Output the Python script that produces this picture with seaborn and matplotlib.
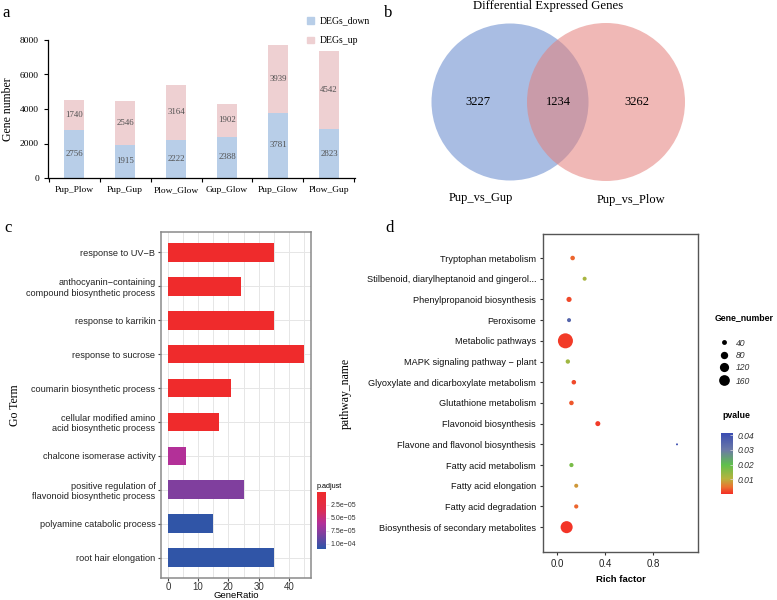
import numpy as np
import pandas as pd
import matplotlib
matplotlib.use("Agg")
import matplotlib.pyplot as plt
import seaborn as sns
from matplotlib.colors import LinearSegmentedColormap, Normalize
from matplotlib.patches import Circle, Patch
import matplotlib.colorbar as mcolorbar

# ---------------- data ----------------
# panel a
comparisons = ["Pup_Plow", "Pup_Gup", "Plow_Glow", "Gup_Glow", "Pup_Glow", "Plow_Gup"]
degs_down = [2756, 1915, 2222, 2388, 3781, 2823]
degs_up = [1740, 2546, 3164, 1902, 3939, 4542]
a_yticks = [0, 2000, 4000, 6000, 8000]

# panel b
venn_sets = ["Pup_vs_Gup", "Pup_vs_Plow"]
venn_counts = [3227, 1234, 3262]   # only left, shared, only right
venn_title = "Differential Expressed Genes"

# panel c
go_terms = ["response to UV\u2212B",
            "anthocyanin\u2212containing\ncompound biosynthetic process",
            "response to karrikin",
            "response to sucrose",
            "coumarin biosynthetic process",
            "cellular modified amino\nacid biosynthetic process",
            "chalcone isomerase activity",
            "positive regulation of\nflavonoid biosynthetic process",
            "polyamine catabolic process",
            "root hair elongation"]
gene_ratio = [35, 24, 35, 45, 21, 17, 6, 25, 15, 35]
p_adjust = [1e-6, 1e-6, 1e-6, 1e-6, 1e-6, 1e-6, 6.0e-5, 8.0e-5, 1.08e-4, 1.08e-4]
padj_ticks = [2.5e-5, 5.0e-5, 7.5e-5, 1.0e-4]
padj_ticklabels = ["2.5e\u221205", "5.0e\u221205", "7.5e\u221205", "1.0e\u221204"]
c_xticks = [0, 10, 20, 30, 40]

# panel d
pathways = ["Tryptophan metabolism",
            "Stilbenoid, diarylheptanoid and gingerol...",
            "Phenylpropanoid biosynthesis",
            "Peroxisome",
            "Metabolic pathways",
            "MAPK signaling pathway \u2212 plant",
            "Glyoxylate and dicarboxylate metabolism",
            "Glutathione metabolism",
            "Flavonoid biosynthesis",
            "Flavone and flavonol biosynthesis",
            "Fatty acid metabolism",
            "Fatty acid elongation",
            "Fatty acid degradation",
            "Biosynthesis of secondary metabolites"]
rich_factor = [0.13, 0.23, 0.10, 0.10, 0.07, 0.09, 0.14, 0.12, 0.34, 1.00, 0.12, 0.16, 0.16, 0.08]
gene_number = [36, 30, 44, 30, 306, 34, 36, 36, 42, 14, 32, 30, 32, 200]
pvalue = [0.004, 0.012, 0.002, 0.035, 0.001, 0.013, 0.002, 0.003, 0.001, 0.040, 0.017, 0.008, 0.004, 0.0005]
gene_legend = [40, 80, 120, 160]
pval_ticks = [0.01, 0.02, 0.03, 0.04]
d_xticks = [0.0, 0.4, 0.8]

# ---------------- style ----------------
W, H = 777, 600
SERIF = "Liberation Serif"
SANS = "Liberation Sans"
DOWN_COLOR = "#b8cee8"
UP_COLOR = "#eed0d2"

fig = plt.figure(figsize=(W / 100, H / 100), dpi=100)


def px_axes(x0, y0, x1, y1):
    return fig.add_axes([x0 / W, 1 - y1 / H, (x1 - x0) / W, (y1 - y0) / H])


# ---------------- panel a ----------------
ax_a = px_axes(48, 40, 355, 178)
df_a = pd.DataFrame({"comp": comparisons, "down": degs_down, "up": degs_up})
df_a["total"] = df_a["down"] + df_a["up"]
sns.barplot(data=df_a, x="comp", y="total", color=UP_COLOR, width=0.4, saturation=1, ax=ax_a)
sns.barplot(data=df_a, x="comp", y="down", color=DOWN_COLOR, width=0.4, saturation=1, ax=ax_a)
for i, (d, u) in enumerate(zip(degs_down, degs_up)):
    ax_a.text(i, d / 2, str(d), ha="center", va="center", fontsize=6.3, family=SERIF, color="#505050")
    ax_a.text(i, d + u / 2, str(u), ha="center", va="center", fontsize=6.3, family=SERIF, color="#505050")
ax_a.set_xlim(-0.51, len(comparisons) - 0.49)
ax_a.set_ylim(0, 8000)
ax_a.set_yticks(a_yticks)
ax_a.set_yticklabels([str(t) for t in a_yticks], family=SERIF, fontsize=6.8)
ax_a.set_xticks(np.arange(-0.5, len(comparisons), 1.0))
ax_a.set_xticklabels([])
ax_a.set_xticks(range(len(comparisons)), minor=True)
ax_a.set_xticklabels(comparisons, minor=True, family=SERIF, fontsize=6.8)
ax_a.tick_params(axis="x", which="minor", length=0, pad=6)
ax_a.tick_params(axis="both", which="major", length=3, width=0.8, direction="out")
ax_a.set_xlabel("")
ax_a.set_ylabel("Gene number", family=SERIF, fontsize=8.5, labelpad=4)
for s in ["top", "right"]:
    ax_a.spines[s].set_visible(False)
for s in ["left", "bottom"]:
    ax_a.spines[s].set_linewidth(0.9)
ax_a.legend(handles=[Patch(color=DOWN_COLOR), Patch(color=UP_COLOR)],
            labels=["DEGs_down", "DEGs_up"], loc="upper left",
            bbox_to_anchor=(298 / W, 1 - 8 / H), bbox_transform=fig.transFigure,
            frameon=False, handlelength=0.7, handleheight=0.7, handletextpad=0.6,
            labelspacing=1.1, prop={"family": SERIF, "size": 7})

# ---------------- panel c ----------------
cmap_c = LinearSegmentedColormap.from_list(
    "padj", [(0.0, "#ef2b2b"), (0.3, "#e02c4c"), (0.55, "#b2309a"), (0.75, "#7a419f"), (1.0, "#2b56a8")])
norm_c = Normalize(0, 1.1e-4)
ax_c = px_axes(161, 232, 311, 578)
df_c = pd.DataFrame({"term": go_terms, "ratio": gene_ratio, "padj": p_adjust})
colors_c = [cmap_c(norm_c(p)) for p in p_adjust]
ax_c.set_axisbelow(True)
sns.barplot(data=df_c, y="term", x="ratio", hue="term", palette=colors_c, legend=False,
            orient="h", width=0.55, saturation=1, ax=ax_c)
ax_c.set_xlim(-2.25, 47.25)
ax_c.set_ylim(len(go_terms) - 0.4, -0.6)
ax_c.set_xticks(c_xticks)
ax_c.set_xticks(np.arange(5, 50, 10), minor=True)
ax_c.set_xticklabels([str(t) for t in c_xticks], family=SANS, fontsize=7, color="#333333")
ax_c.set_yticks(range(len(go_terms)))
ax_c.set_yticklabels(go_terms, family=SANS, fontsize=6.6, color="#222222", multialignment="right")
ax_c.grid(True, which="both", color="#e6e6e6", lw=0.7)
ax_c.tick_params(axis="both", which="major", length=2, color="#444444", pad=2)
ax_c.tick_params(axis="x", which="major", pad=1)
ax_c.tick_params(axis="x", which="minor", length=0)
for s in ax_c.spines.values():
    s.set_color("#8a8a8a")
    s.set_linewidth(1.1)
ax_c.set_xlabel("GeneRatio", family=SANS, fontsize=6.8, labelpad=-1)
ax_c.set_ylabel("Go Term", family=SERIF, fontsize=8.5, labelpad=4)
ax_c.yaxis.set_label_coords(-0.93, 0.5)

cax_c = px_axes(317, 492, 326, 549)
cb_c = mcolorbar.ColorbarBase(cax_c, cmap=cmap_c, norm=norm_c, orientation="vertical")
cax_c.invert_yaxis()
cb_c.set_ticks(padj_ticks)
cb_c.set_ticklabels(padj_ticklabels)
cb_c.outline.set_visible(False)
cax_c.tick_params(length=2, width=0.5, color="#dddddd", labelsize=5, pad=1.5)
for t in cax_c.get_yticklabels():
    t.set_family(SANS)
    t.set_color("#333333")

# ---------------- panel d ----------------
cmap_d = LinearSegmentedColormap.from_list(
    "pval", [(0.0, "#f42d26"), (0.12, "#ea7530"), (0.25, "#b7b33e"), (0.48, "#5fc04c"),
             (0.72, "#6c7aa6"), (1.0, "#3a4cb2")])
norm_d = Normalize(0, 0.0414)
S_MIN, S_MAX, N_MIN, N_MAX = 0.5, 118.6, 10, 310

ax_d = px_axes(543, 234, 698, 552)
df_d = pd.DataFrame({"pathway": pathways, "rich": rich_factor, "gene": gene_number, "pvalue": pvalue})
sns.scatterplot(data=df_d, x="rich", y="pathway", hue="pvalue", palette=cmap_d, hue_norm=norm_d,
                size="gene", sizes=(S_MIN, S_MAX), size_norm=(N_MIN, N_MAX),
                linewidth=0, legend=False, ax=ax_d, zorder=3)
ax_d.set_xlim(-0.117, 1.175)
ax_d.set_ylim(len(pathways) - 1 + 1.2, -1.16)
ax_d.set_xticks(d_xticks)
ax_d.set_xticklabels([f"{t:.1f}" for t in d_xticks], family=SANS, fontsize=7, color="#222222")
ax_d.set_yticks(range(len(pathways)))
ax_d.set_yticklabels(pathways, family=SANS, fontsize=6.6, color="#111111")
ax_d.tick_params(axis="both", length=2, color="#333333", pad=3)
for s in ax_d.spines.values():
    s.set_color("#555555")
    s.set_linewidth(1.0)
ax_d.set_xlabel("Rich factor", family=SANS, fontsize=6.8, fontweight="bold", labelpad=4)
ax_d.set_ylabel("pathway_name", family=SERIF, fontsize=8.5)
ax_d.yaxis.set_label_coords((352 - 543) / 155, 0.5)

cax_d = px_axes(721, 433, 733, 494)
cb_d = mcolorbar.ColorbarBase(cax_d, cmap=cmap_d, norm=norm_d, orientation="vertical")
cb_d.set_ticks(pval_ticks)
cb_d.set_ticklabels([f"{t:.2f}" for t in pval_ticks])
cb_d.outline.set_visible(False)
cax_d.tick_params(length=2.5, width=0.5, color="#dddddd", direction="in", labelsize=6.2, pad=3)
for t in cax_d.get_yticklabels():
    t.set_family(SANS)
    t.set_style("italic")
    t.set_color("#333333")

# ---------------- overlay (panel b, letters, size legend) ----------------
ov = fig.add_axes([0, 0, 1, 1])
ov.set_xlim(0, W)
ov.set_ylim(H, 0)
ov.axis("off")

ov.add_patch(Circle((510, 102), 78.5, facecolor="#a9bde3", edgecolor="none", zorder=1))
ov.add_patch(Circle((606, 102), 79, facecolor="#e47f7a", alpha=0.55, edgecolor="none", zorder=2))
ov.text(478, 102, str(venn_counts[0]), ha="center", va="center", family=SERIF, fontsize=9, zorder=3)
ov.text(558, 102, str(venn_counts[1]), ha="center", va="center", family=SERIF, fontsize=9, zorder=3)
ov.text(637, 102, str(venn_counts[2]), ha="center", va="center", family=SERIF, fontsize=9, zorder=3)
ov.text(481, 198, venn_sets[0], ha="center", va="center", family=SERIF, fontsize=9)
ov.text(631, 200, venn_sets[1], ha="center", va="center", family=SERIF, fontsize=9)
ov.text(548, 6, venn_title, ha="center", va="center", family=SERIF, fontsize=9.2)

for lab, (x, y) in zip("abcd", [(2, 13), (384, 13), (4, 228), (385, 228)]):
    ov.text(x, y, lab, ha="left", va="center", family=SERIF, fontsize=12)

# size legend
ov.text(715, 318, "Gene_number", ha="left", va="center", family=SANS, fontsize=6.3, fontweight="bold")
for v, y in zip(gene_legend, [342, 355, 367, 380]):
    s = S_MIN + (v - N_MIN) / (N_MAX - N_MIN) * (S_MAX - S_MIN)
    ov.scatter([724], [y], s=s, color="black", linewidth=0)
    ov.text(736, y + 1, str(v), ha="left", va="center", family=SANS, fontsize=6.2, style="italic", color="#333333")
ov.text(722, 416, "pvalue", ha="left", va="center", family=SANS, fontsize=6.3, fontweight="bold")
ov.text(317, 487, "p.adjust", ha="left", va="center", family=SANS, fontsize=5.2)

fig.savefig("out.png", dpi=100)
